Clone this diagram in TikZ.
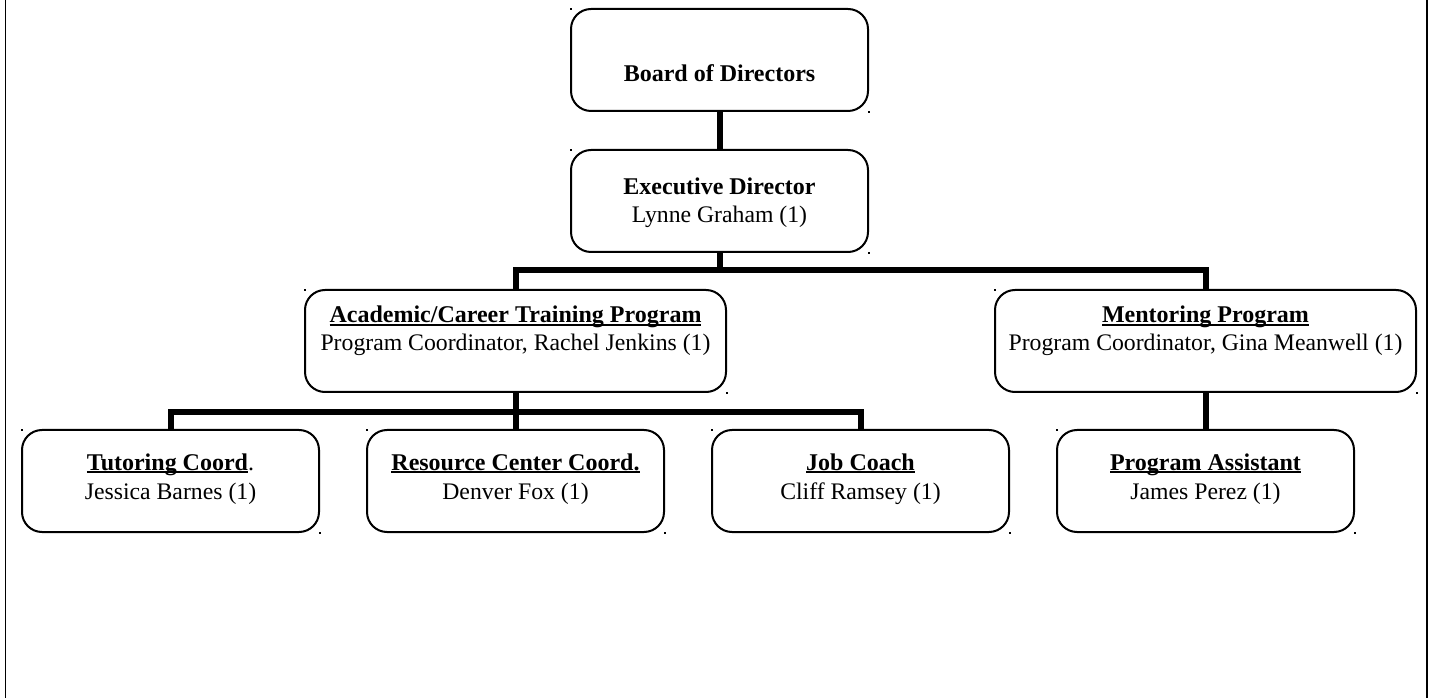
\documentclass[tikz,border=0pt]{standalone}
\usepackage{fontspec}
\setmainfont{Liberation Serif}
\newcommand\ulx[1]{\leavevmode\setbox0=\hbox{#1}\rlap{\rule[-2.3pt]{\wd0}{1.3pt}}\box0}
\begin{document}
\begin{tikzpicture}[x=0.75pt,y=-0.75pt,
  box/.style={draw, line width=1.5pt, rounded corners=15pt, inner sep=0pt, outer sep=0pt, minimum height=76.5pt},
  sbox/.style={box, minimum width=222.75pt},
  wbox/.style={box, minimum width=315.75pt},
  conn/.style={line width=4.5pt},
  txt/.style={anchor=base, inner sep=0pt, font=\fontsize{17.8pt}{21pt}\selectfont},
  ttl/.style={anchor=base, inner sep=0pt, font=\fontsize{18pt}{21pt}\selectfont\bfseries},
  edge/.style={line width=1.1pt}]
\useasboundingbox (0,0) rectangle (1432,698);
% outer side lines
\coordinate (lt) at (5.5,0); \coordinate (lb) at (5.5,698);
\coordinate (rt) at (1427,0); \coordinate (rb) at (1427,698);
\draw[edge] (lt) -- (lb);
\draw[edge] (rt) -- (rb);
% boxes
\node[sbox] (board) at (719.5,60) {};
\node[sbox] (exec) at (719.5,201) {};
\node[wbox] (acad) at (515.5,341) {};
\node[wbox] (ment) at (1205.5,341) {};
\node[sbox] (tut) at (170.5,481) {};
\node[sbox] (res) at (515.5,481) {};
\node[sbox] (job) at (860.5,481) {};
\node[sbox] (pa) at (1205.5,481) {};
% corner dots
\foreach \n in {board,exec,acad,ment,tut,res,job,pa}{
  \fill (\n.north west) ++(-1,-1) rectangle ++(2,2);
  \fill (\n.south east) ++(0,0) rectangle ++(2,2);
}
% texts
\node[ttl] (boardT) at (719.5,82) {Board of Directors};
\node[ttl] (execT) at (719.5,195) {Executive Director};
\node[txt] (execN) at (719.5,223) {Lynne Graham (1)};
\node[ttl] (acadT) at (515.5,323) {\ulx{Academic/Career Training Program}};
\node[txt] (acadN) at (515.5,351) {Program Coordinator, Rachel Jenkins (1)};
\node[ttl] (mentT) at (1205.5,323) {\ulx{Mentoring Program}};
\node[txt] (mentN) at (1205.5,351) {Program Coordinator, Gina Meanwell (1)};
\node[ttl] (tutT) at (170.5,470) {\ulx{Tutoring Coord}{\mdseries.}};
\node[txt] (tutN) at (170.5,499) {Jessica Barnes (1)};
\node[ttl] (resT) at (515.5,470) {\ulx{Resource Center Coord.}};
\node[txt] (resN) at (515.5,499) {Denver Fox (1)};
\node[ttl] (jobT) at (860.5,470) {\ulx{Job Coach}};
\node[txt] (jobN) at (860.5,499) {Cliff Ramsey (1)};
\node[ttl] (paT) at (1205.5,470) {\ulx{Program Assistant}};
\node[txt] (paN) at (1205.5,499) {James Perez (1)};
% connectors
\coordinate (j1) at (719.5,270);
\coordinate (j2) at (515.5,412);
\draw[conn] (board.south) -- (exec.north);
\draw[conn] (exec.south) -- (j1);
\draw[conn] (acad.north) |- (j1) -| (ment.north);
\draw[conn] (acad.south) -- (j2);
\draw[conn] (tut.north) |- (j2) -| (job.north);
\draw[conn] (j2) -- (res.north);
\draw[conn] (ment.south) -- (pa.north);
\end{tikzpicture}
\end{document}
